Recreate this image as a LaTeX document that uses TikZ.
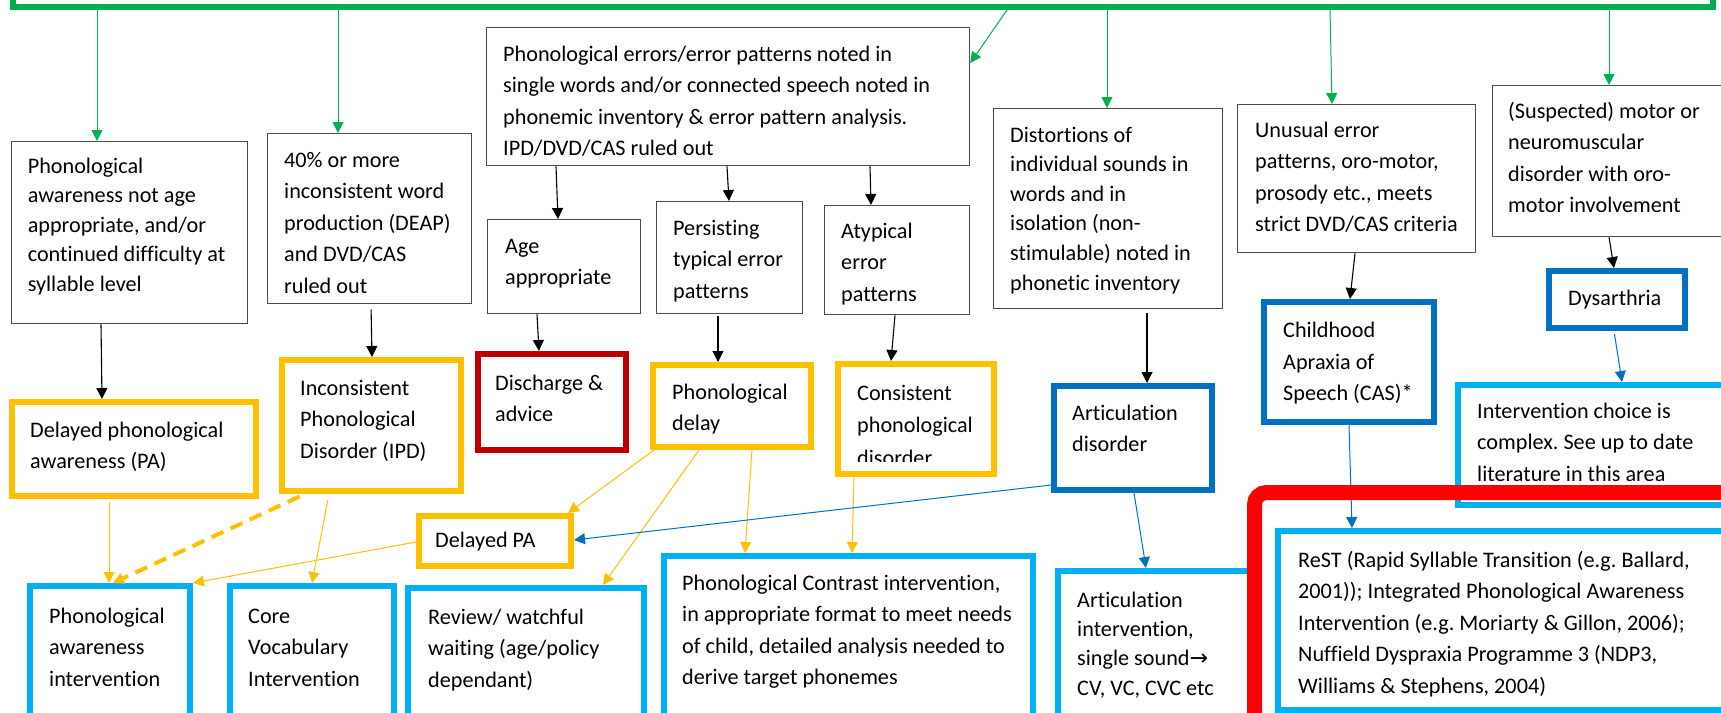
\documentclass[tikz,border=0pt]{standalone}
\usepackage{fontspec}
\setmainfont{Carlito}[Ligatures=NoCommon]
\newfontfamily\arrowfont{DejaVu Sans}
\usetikzlibrary{arrows.meta}
\definecolor{cgreen}{HTML}{00B050}
\definecolor{cyellow}{HTML}{FFC000}
\definecolor{cltblue}{HTML}{00B0F0}
\definecolor{cdkblue}{HTML}{0070C0}
\definecolor{cdkred}{HTML}{C00000}
\definecolor{cred}{HTML}{FF0000}
\frenchspacing

\begin{document}
\begin{tikzpicture}[x=1pt, y=-1pt,
  every node/.style={font=\fontsize{22.2}{31.6}\selectfont},
  box/.style={anchor=north west, inner sep=0pt},
  thinbox/.style={box, draw=black!70, line width=1.3pt},
  ybox/.style={box, draw=cyellow, line width=6pt},
  rbox/.style={box, draw=cdkred, line width=6pt},
  dbbox/.style={box, draw=cdkblue, line width=6pt},
  lbbox/.style={box, draw=cltblue, line width=6pt},
  txt/.style={anchor=base west, inner sep=0pt, align=left},
  tight/.style={font=\fontsize{22.2}{29.6}\selectfont},
  tip/.style={-{Triangle[length=11pt,width=11pt]}},
  garr/.style={tip, draw=cgreen, line width=1pt},
  karr/.style={tip, draw=black, line width=1.1pt},
  yarr/.style={tip, draw=cyellow, line width=1pt},
  barr/.style={tip, draw=cdkblue, line width=1pt}]

  \useasboundingbox (0,0) rectangle (1721,712);
  \clip (0,0) rectangle (1721,712);

  % text nodes sit on the baseline of their last line

  % ---- assessment frame (top, cut off) ----
  \node[box, anchor=south west, draw=cgreen, line width=6pt,
        minimum width=1700, minimum height=300] (assess) at (10,10) {};

  % ---- findings ----
  \node[thinbox, minimum width=236, minimum height=182] (chk) at (11,141) {};
  \node[txt, tight] (chk-t) at (27.6,291.4) {Phonological\\awareness not age\\appropriate, and/or\\continued difficulty at\\syllable level};

  \node[thinbox, minimum width=204, minimum height=170] (incons) at (267,133) {};
  \node[txt] (incons-t) at (284,293.4) {40\% or more\\inconsistent word\\production (DEAP)\\and DVD/CAS\\ruled out};

  \node[thinbox, minimum width=483, minimum height=138] (errs) at (486,27) {};
  \node[txt] (errs-t) at (503,155.8) {Phonological errors/error patterns noted in\\single words and/or connected speech noted in\\phonemic inventory \& error pattern analysis.\\IPD/DVD/CAS ruled out};

  \node[thinbox, minimum width=153, minimum height=94] (age) at (487,219) {};
  \node[txt] (age-t) at (505,284.6) {Age\\appropriate};

  \node[thinbox, minimum width=146, minimum height=112] (persist) at (656,201) {};
  \node[txt] (persist-t) at (673,298.2) {Persisting\\typical error\\patterns};

  \node[thinbox, minimum width=145, minimum height=109] (atyp) at (824,205) {};
  \node[txt] (atyp-t) at (841,301.2) {Atypical\\error\\patterns};

  \node[thinbox, minimum width=229, minimum height=200] (dist) at (993,108) {};
  \node[txt, tight] (dist-t) at (1010,290) {Distortions of\\individual sounds in\\words and in\\isolation (non-\\stimulable) noted in\\phonetic inventory};

  \node[thinbox, minimum width=238, minimum height=148] (unus) at (1237,104) {};
  \node[txt] (unus-t) at (1255,231.8) {Unusual error\\patterns, oro-motor,\\prosody etc., meets\\strict DVD/CAS criteria};

  \node[thinbox, minimum width=300, minimum height=151] (susp) at (1492,85) {};
  \node[txt] (susp-t) at (1508,212.8) {(Suspected) motor or\\neuromuscular\\disorder with oro-\\motor involvement};

  % ---- diagnoses ----
  \node[ybox, minimum width=244, minimum height=94] (dpa) at (9,399) {};
  \node[txt] (dpa-t) at (30,468.6) {Delayed phonological\\awareness (PA)};

  \node[ybox, minimum width=179, minimum height=131] (ipd) at (279,357) {};
  \node[txt] (ipd-t) at (300,458.2) {Inconsistent\\Phonological\\Disorder (IPD)};

  \node[rbox, minimum width=148, minimum height=96] (disc) at (475,351) {};
  \node[txt] (disc-t) at (495,421.6) {Discharge \&\\advice};

  \node[ybox, minimum width=158, minimum height=82] (delay) at (650,362) {};
  \node[txt] (delay-t) at (672,430.6) {Phonological\\delay};

  \node[ybox, minimum width=156, minimum height=110] (cpd) at (835,361) {};
  \begin{scope}
    \clip (830,350) rectangle (1000,461.5);
    \node[txt, font=\fontsize{22.2}{32.5}\selectfont] (cpd-t) at (857,465) {Consistent\\phonological\\disorder};
  \end{scope}

  \node[ybox, minimum width=152, minimum height=50] (dpa2) at (416,513) {};
  \node[txt] (dpa2-t) at (435,547.5) {Delayed PA};

  \node[dbbox, minimum width=158, minimum height=104] (artdis) at (1051,383) {};
  \node[txt] (artdis-t) at (1072,451.6) {Articulation\\disorder};

  \node[dbbox, minimum width=170, minimum height=120] (cas) at (1261,299) {};
  \node[txt] (cas-t) at (1283,400.7) {Childhood\\Apraxia of\\Speech (CAS)*};

  \node[dbbox, minimum width=136, minimum height=57] (dys) at (1546,268) {};
  \node[txt] (dys-t) at (1568,305) {Dysarthria};

  % ---- interventions ----
  \node[lbbox, minimum width=160, minimum height=194] (pai) at (27,583) {};
  \node[txt] (pai-t) at (49,686.2) {Phonological\\awareness\\intervention};

  \node[lbbox, minimum width=164, minimum height=194] (cvi) at (227,583) {};
  \node[txt] (cvi-t) at (248,686.2) {Core\\Vocabulary\\Intervention};

  \node[lbbox, minimum width=236, minimum height=194] (review) at (405,585) {};
  \node[txt] (review-t) at (428,687.2) {Review/ watchful\\waiting (age/policy\\dependant)};

  \node[lbbox, minimum width=369, minimum height=220] (contrast) at (661,553) {};
  \node[txt] (contrast-t) at (682,684.8) {Phonological Contrast intervention,\\in appropriate format to meet needs\\of child, detailed analysis needed to\\derive target phonemes};

  \node[lbbox, minimum width=195, minimum height=200] (artint) at (1055,568) {};
  \node[txt, font=\fontsize{22.2}{29.4}\selectfont] (artint-t) at (1077,695.2) {Articulation\\intervention,\\single sound{\arrowfont →}\\CV, VC, CVC etc};

  \node[lbbox, minimum width=344, minimum height=120] (choice) at (1455,382) {};
  \node[txt] (choice-t) at (1477,481.2) {Intervention choice is\\complex. See up to date\\literature in this area};

  \node[lbbox, minimum width=514, minimum height=179] (rest) at (1275,528) {};
  \node[txt] (rest-t) at (1298,693.4) {ReST (Rapid Syllable Transition (e.g. Ballard,\\2001)); Integrated Phonological Awareness\\Intervention (e.g. Moriarty \& Gillon, 2006);\\Nuffield Dyspraxia Programme 3 (NDP3,\\Williams \& Stephens, 2004)};

  % ---- green arrows from the assessment ----
  \draw[garr] (assess.south -| 97,0) -- (chk.north -| 97,0);
  \draw[garr] (assess.south -| 338,0) -- (incons.north -| 338,0);
  \draw[garr] (assess.south -| 1007,0) -- (errs.east |- 0,63);
  \draw[garr] (assess.south -| 1107,0) -- (dist.north -| 1107,0);
  \draw[garr] (assess.south -| 1330,0) -- (unus.north -| 1332,0);
  \draw[garr] (assess.south -| 1609,0) -- (susp.north -| 1609,0);

  % ---- findings to diagnoses ----
  \draw[karr] (chk.south -| 101,0) -- (dpa.north -| 102,0);
  \draw[karr, shorten <=5pt] (incons.south -| 371,0) -- (ipd.north -| 372,0);
  \draw[karr] (errs.south -| 556,0) -- (age.north -| 558,0);
  \draw[karr] (errs.south -| 727,0) -- (persist.north -| 729,0);
  \draw[karr] (errs.south -| 870,0) -- (atyp.north -| 871,0);
  \draw[karr] (age.south -| 537,0) -- (disc.north -| 539,0);
  \draw[karr, shorten <=2pt] (persist.south -| 718,0) -- (delay.north -| 718,0);
  \draw[karr] (atyp.south -| 895,0) -- (cpd.north -| 891,0);
  \draw[karr, shorten <=4pt] (dist.south -| 1147,0) -- (artdis.north -| 1147,0);
  \draw[karr] (unus.south -| 1355,0) -- (cas.north -| 1350,0);
  \draw[karr] (susp.south -| 1609,0) -- (dys.north -| 1614,0);

  % ---- diagnoses to interventions ----
  \draw[yarr, shorten <=3pt] (dpa.south -| 109,0) -- (pai.north -| 109,0);
  \draw[tip, draw=cyellow, line width=4pt, dash pattern=on 13pt off 8pt, shorten <=6pt]
    (ipd.south -| 305,0) -- (pai.north -| 113,0);
  \draw[yarr, shorten <=6pt] (ipd.south -| 329,0) -- (cvi.north -| 312,0);
  \draw[yarr] (dpa2.west |- 0,542) -- (pai.north east);
  \draw[yarr] (delay.south -| 654,0) -- (dpa2.north -| 568,0);
  \draw[yarr] (delay.south -| 699,0) -- (review.north -| 603,0);
  \draw[yarr] (delay.south -| 752,0) -- (contrast.north -| 745,0);
  \draw[yarr] (cpd.south -| 854,0) -- (contrast.north -| 852,0);

  \draw[barr] (artdis.west |- 0,485) -- (dpa2.east |- 0,540);
  \draw[barr] (artdis.south -| 1134,0) -- (artint.north -| 1146,0);
  \draw[barr] (cas.south -| 1349,0) -- (rest.north -| 1352,0);
  \draw[barr, shorten <=3pt] (dys.south -| 1614,0) -- (choice.north -| 1622,0);

  % ---- red highlight frame ----
  \node[box, draw=cred, line width=15pt, rounded corners=12pt,
        minimum width=600, minimum height=400] (hilite) at (1247,485) {};

\end{tikzpicture}
\end{document}
